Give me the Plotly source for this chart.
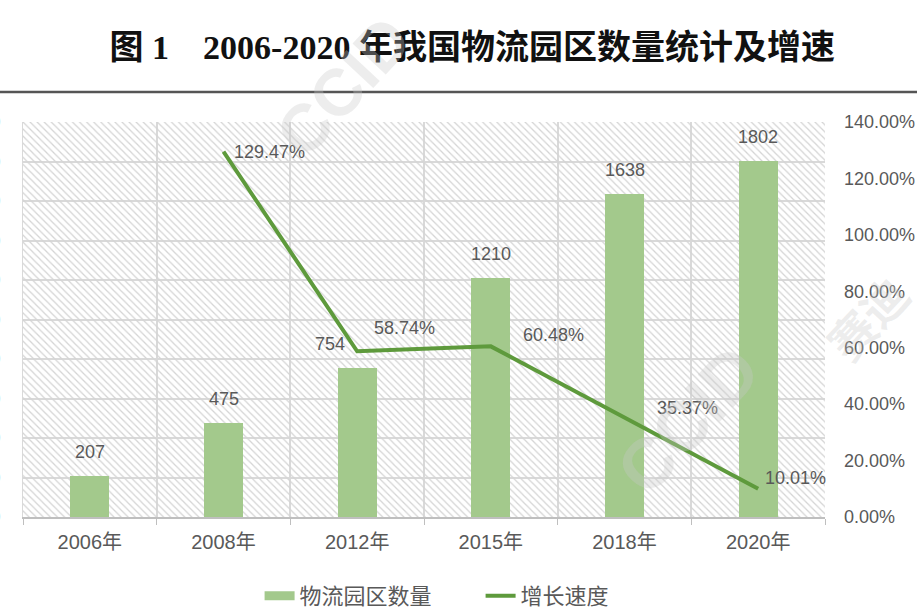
import plotly.graph_objects as go

categories = ["2006年", "2008年", "2012年", "2015年", "2018年", "2020年"]
park_counts = [207, 475, 754, 1210, 1638, 1802]
growth_cats = ["2008年", "2012年", "2015年", "2018年", "2020年"]
growth_rates = [1.2947, 0.5874, 0.6048, 0.3537, 0.1001]
growth_labels = ["129.47%", "58.74%", "60.48%", "35.37%", "10.01%"]
left_max = 2000
right_max = 1.4

GRID = "#d9d9d9"
TXT = "#595959"
FONT = "Liberation Sans, Noto Sans CJK SC, sans-serif"
BAR_C = "#a3c98c"
LINE_C = "#5e9a3c"

fig = go.Figure()

# hatched plot-area background
fig.add_trace(go.Bar(
    x=categories, y=[left_max] * len(categories), width=1,
    marker=dict(color="#d4d4d4", line=dict(width=0),
                pattern=dict(shape="\\", size=5, solidity=0.25, fillmode="replace")),
    hoverinfo="skip", showlegend=False,
))

fig.add_trace(go.Bar(
    x=categories, y=park_counts, width=0.29, name="物流园区数量",
    marker=dict(color=BAR_C, line=dict(width=0)), showlegend=False,
))

fig.add_trace(go.Scatter(
    x=growth_cats, y=growth_rates, yaxis="y2", mode="lines",
    name="增长速度", line=dict(color=LINE_C, width=4), showlegend=False,
))

# legend-only entries
fig.add_trace(go.Scatter(x=[None], y=[None], mode="lines", name="物流园区数量",
                         line=dict(color=BAR_C, width=9)))
fig.add_trace(go.Scatter(x=[None], y=[None], mode="lines", name="增长速度",
                         line=dict(color=LINE_C, width=4)))

annotations = []
for c, v in zip(categories, park_counts):
    annotations.append(dict(
        x=c, y=v, xref="x", yref="y", text=str(v), showarrow=False,
        yanchor="bottom", yshift=12, xshift=(-27 if v == 754 else 0),
        font=dict(size=18, color=TXT, family=FONT),
    ))

line_shifts = [(8, 0), (15, 23), (30, 11), (30, 9), (5, 11)]
for c, v, t, (dx, dy) in zip(growth_cats, growth_rates, growth_labels, line_shifts):
    annotations.append(dict(
        x=c, y=v, xref="x", yref="y2", text=t, showarrow=False,
        xanchor="left", yanchor="middle", xshift=dx, yshift=dy,
        font=dict(size=18, color=TXT, family=FONT),
    ))

# watermarks
for (wx, wy, wt, sz) in [(0.40, 1.09, "CCID", 66), (0.83, 0.245, "CCID", 70),
                         (1.055, 0.50, "赛迪", 46)]:
    annotations.append(dict(
        x=wx, y=wy, xref="paper", yref="paper", text="<b>" + wt + "</b>",
        showarrow=False, textangle=-47, xanchor="center", yanchor="middle",
        font=dict(size=sz, color="rgba(200,200,200,0.33)", family=FONT),
    ))

fig.update_layout(
    width=917, height=607,
    margin=dict(l=23, r=92, t=122, b=90, autoexpand=False),
    paper_bgcolor="white", plot_bgcolor="white",
    barmode="overlay", bargap=0,
    font=dict(family=FONT, color=TXT, size=18),
    title=dict(
        text="<b>图 1    2006-2020 年我国物流园区数量统计及增速</b>",
        x=0.515, xanchor="center", y=0.922, yanchor="middle",
        font=dict(size=34, color="#111111",
                  family="Liberation Serif, Noto Sans CJK SC, serif"),
    ),
    xaxis=dict(
        type="category", tickson="boundaries", showgrid=True, gridcolor=GRID,
        gridwidth=1.5, showline=True, linecolor="#bfbfbf", linewidth=1.5,
        ticks="outside", ticklen=6, tickcolor="#bfbfbf", automargin=False,
        ticklabelstandoff=6,
        tickfont=dict(size=20, color=TXT), range=[-0.5, 5.5],
    ),
    yaxis=dict(
        range=[0, left_max], dtick=200, showgrid=True, gridcolor=GRID,
        gridwidth=1.5, zeroline=False, showline=True, linecolor=GRID,
        ticks="", ticklabelstandoff=18, tickfont=dict(size=18, color=TXT),
        automargin=False,
    ),
    yaxis2=dict(
        range=[0, right_max], dtick=0.2, tickformat=".2%", overlaying="y",
        side="right", showgrid=False, zeroline=False, showline=False,
        ticks="", ticklabelstandoff=18, tickfont=dict(size=18, color=TXT),
        automargin=False,
    ),
    legend=dict(
        orientation="h", x=0.295, xanchor="left", y=-0.2, yanchor="middle",
        font=dict(size=22, color=TXT), traceorder="normal",
        entrywidth=176, entrywidthmode="pixels",
    ),
    annotations=annotations,
    shapes=[dict(type="line", xref="paper", yref="paper",
                 x0=-0.03, x1=1.15, y0=1.076, y1=1.076,
                 line=dict(color="#555555", width=2.5))],
    showlegend=True,
)

fig.write_html("out.html")
